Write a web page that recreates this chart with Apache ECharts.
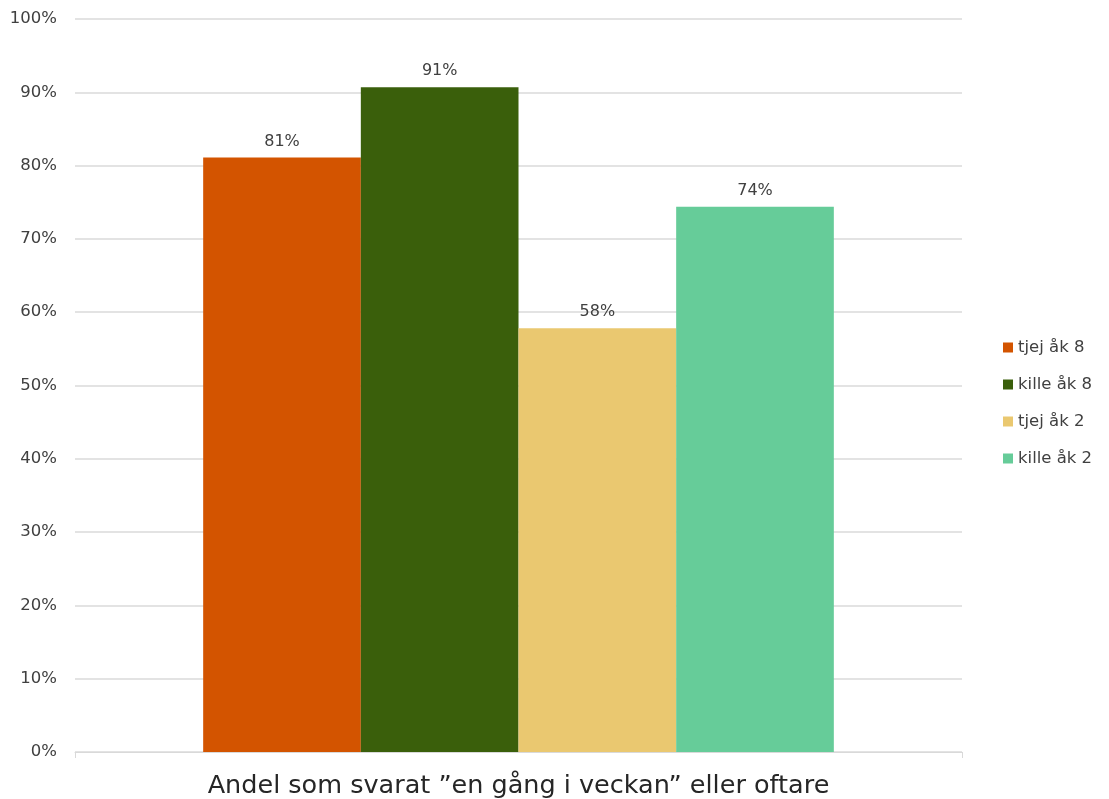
<!DOCTYPE html>
<html><head><meta charset="utf-8">
<script src="https://cdn.jsdelivr.net/npm/echarts@6/dist/echarts.min.js"></script>
<style>html,body{margin:0;padding:0;background:#fff}#c{width:1109px;height:799px}</style>
</head><body><div id="c"></div>
<script>
const categories = ['Andel som svarat ”en gång i veckan” eller oftare'];
const seriesNames = ['tjej åk 8', 'kille åk 8', 'tjej åk 2', 'kille åk 2'];
const seriesValues = [[81.1], [90.7], [57.8], [74.4]];
const seriesColors = ['#D35400', '#3A5F0B', '#EAC870', '#66CC99'];
const yTicks = [0, 10, 20, 30, 40, 50, 60, 70, 80, 90, 100];

const FONT = '"DejaVu Sans", sans-serif';
const chart = echarts.init(document.getElementById('c'));
chart.setOption({
  animation: false,
  grid: { left: 75, right: 147, top: 19, bottom: 46, containLabel: false },
  legend: {
    orient: 'vertical', left: 998, top: 334,
    itemWidth: 10, itemHeight: 10, itemGap: 20,
    icon: 'rect',
    textStyle: { fontFamily: FONT, fontSize: 16.5, color: '#404040', padding: [0, 0, 0, 0] },
    data: seriesNames
  },
  xAxis: {
    type: 'category', data: categories,
    axisLine: { lineStyle: { color: '#D9D9D9', width: 1 } },
    axisTick: { show: true, length: 6, lineStyle: { color: '#D9D9D9' } },
    axisLabel: { fontFamily: FONT, fontSize: 25.5, color: '#262626', margin: 21 }
  },
  yAxis: {
    type: 'value', min: 0, max: 100, interval: 10,
    axisLine: { show: false }, axisTick: { show: false },
    splitLine: { lineStyle: { color: '#E3E3E3', width: 2 } },
    axisLabel: { fontFamily: FONT, fontSize: 16.5, color: '#404040', margin: 18,
      formatter: v => yTicks.includes(v) ? v + '%' : '' }
  },
  series: seriesNames.map((n, i) => ({
    name: n, type: 'bar', data: seriesValues[i],
    barGap: '0%', barCategoryGap: '28.9%',
    itemStyle: { color: seriesColors[i] },
    label: { show: true, position: 'top', distance: 8, fontFamily: FONT, fontSize: 16, color: '#404040',
      formatter: p => Math.round(p.value) + '%' }
  }))
});
</script></body></html>
